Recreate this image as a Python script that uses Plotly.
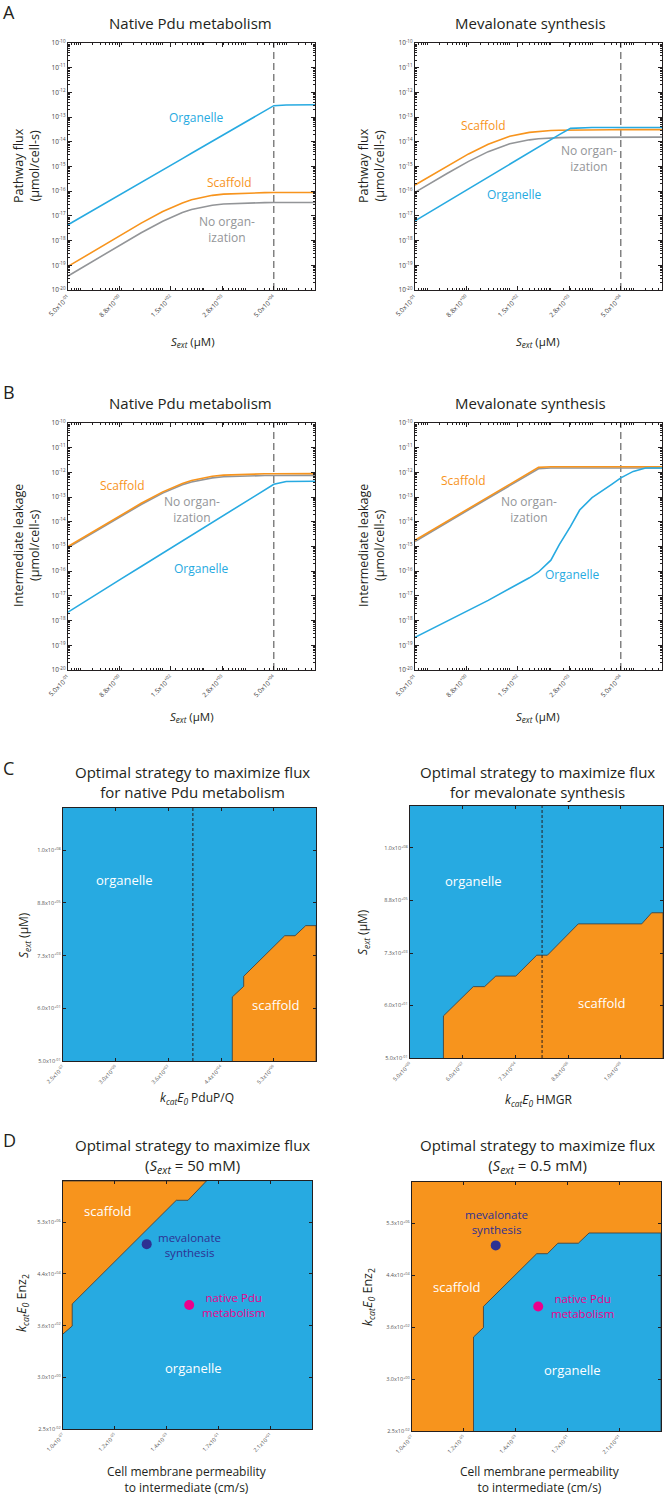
import plotly.graph_objects as go

# ---------------- DATA ----------------
# Panels A/B: external substrate (uM)
S_grid = [0.5, 1, 3, 10, 30, 100, 300, 500, 1000, 1600, 3000, 1e4, 3e4, 5e4, 1e5, 2e5, 5e5]
S_org_mev_leak = [0.5, 1, 3, 10, 30, 100, 300, 500, 1000, 1600, 3000, 5000, 1e4, 3e4, 5e4, 1e5, 2e5, 5e5]
S_marker = 5e4

# A: pathway flux, native Pdu metabolism
flux_pdu_organelle = [4.4e-18, 8.5e-18, 2.45e-17, 7.9e-17, 2.28e-16, 7.2e-16, 2.09e-15, 3.45e-15, 6.7e-15,
                      1.05e-14, 1.94e-14, 6.2e-14, 1.78e-13, 2.9e-13, 3.1e-13, 3.15e-13, 3.15e-13]
flux_pdu_scaffold = [9.0e-20, 1.8e-19, 5.37e-19, 1.77e-18, 5.1e-18, 1.5e-17, 3.36e-17, 4.48e-17, 5.96e-17,
                     6.8e-17, 7.64e-17, 8.48e-17, 8.76e-17, 8.81e-17, 8.86e-17, 8.88e-17, 8.89e-17]
flux_pdu_noorg = [3.7e-20, 7.4e-20, 2.2e-19, 7.25e-19, 2.09e-18, 6.1e-18, 1.36e-17, 1.8e-17, 2.38e-17,
                  2.7e-17, 3.02e-17, 3.34e-17, 3.45e-17, 3.47e-17, 3.48e-17, 3.49e-17, 3.5e-17]
# A: pathway flux, mevalonate synthesis
flux_mev_organelle = [6.3e-18, 1.26e-17, 3.7e-17, 1.24e-16, 3.7e-16, 1.23e-15, 3.65e-15, 6.1e-15, 1.2e-14,
                      1.95e-14, 3.5e-14, 3.8e-14, 3.8e-14, 3.8e-14, 3.8e-14, 3.8e-14, 3.8e-14]
flux_mev_scaffold = [1.79e-16, 3.56e-16, 1.045e-15, 3.23e-15, 8.0e-15, 1.67e-14, 2.41e-14, 2.65e-14, 2.85e-14,
                     2.94e-14, 3.01e-14, 3.07e-14, 3.09e-14, 3.1e-14, 3.1e-14, 3.1e-14, 3.1e-14]
flux_mev_noorg = [8.95e-17, 1.78e-16, 5.2e-16, 1.61e-15, 4.0e-15, 8.3e-15, 1.2e-14, 1.32e-14, 1.43e-14,
                  1.47e-14, 1.51e-14, 1.54e-14, 1.55e-14, 1.55e-14, 1.55e-14, 1.55e-14, 1.55e-14]
# B: intermediate leakage, native Pdu metabolism
leak_pdu_organelle = [2.2e-18, 4.6e-18, 1.42e-17, 5.0e-17, 1.55e-16, 5.4e-16, 1.66e-15, 2.8e-15, 5.7e-15,
                      9.4e-15, 1.82e-14, 6.3e-14, 1.95e-13, 3.3e-13, 4.3e-13, 4.4e-13, 4.4e-13]
leak_pdu_scaffold = [1.0e-15, 2.0e-15, 5.96e-15, 1.96e-14, 5.6e-14, 1.63e-13, 3.58e-13, 4.71e-13, 6.16e-13,
                     6.96e-13, 7.75e-13, 8.52e-13, 8.77e-13, 8.82e-13, 8.86e-13, 8.88e-13, 8.89e-13]
leak_pdu_noorg = [9.0e-16, 1.8e-15, 5.36e-15, 1.76e-14, 5.0e-14, 1.45e-13, 3.14e-13, 4.12e-13, 5.34e-13,
                  6.01e-13, 6.66e-13, 7.29e-13, 7.49e-13, 7.53e-13, 7.57e-13, 7.58e-13, 7.6e-13]
# B: intermediate leakage, mevalonate synthesis
leak_mev_organelle = [2.1e-19, 3.8e-19, 9.3e-19, 2.6e-18, 6.6e-18, 2.0e-17, 5.4e-17, 9.3e-17, 2.8e-16,
                      1.2e-15, 6.5e-15, 3.0e-14, 9.5e-14, 3.3e-13, 6.0e-13, 1.1e-12, 1.5e-12, 1.5e-12]
leak_mev_scaffold = [1.8e-15, 3.56e-15, 1.05e-14, 3.4e-14, 1.0e-13, 3.25e-13, 9.5e-13, 1.6e-12, 1.7e-12,
                     1.7e-12, 1.7e-12, 1.7e-12, 1.7e-12, 1.7e-12, 1.7e-12, 1.7e-12, 1.7e-12]
leak_mev_noorg = [1.6e-15, 3.2e-15, 9.4e-15, 3.05e-14, 9.0e-14, 2.9e-13, 8.5e-13, 1.4e-12, 1.5e-12,
                  1.5e-12, 1.5e-12, 1.5e-12, 1.5e-12, 1.5e-12, 1.5e-12, 1.5e-12, 1.5e-12]

# Tick labels
AB_xtick_vals = [0.5, 8.89, 158.1, 2812, 5e4]
AB_xtick_text = ["5.0x10<sup>-01</sup>", "8.8x10<sup>+00</sup>", "1.5x10<sup>+02</sup>",
                 "2.8x10<sup>+03</sup>", "5.0x10<sup>+04</sup>"]
AB_ytick_vals = [1e-20, 1e-19, 1e-18, 1e-17, 1e-16, 1e-15, 1e-14, 1e-13, 1e-12, 1e-11, 1e-10]
AB_ytick_text = ["10<sup>-20</sup>", "10<sup>-19</sup>", "10<sup>-18</sup>", "10<sup>-17</sup>", "10<sup>-16</sup>",
                 "10<sup>-15</sup>", "10<sup>-14</sup>", "10<sup>-13</sup>", "10<sup>-12</sup>", "10<sup>-11</sup>",
                 "10<sup>-10</sup>"]

kcat_pdu_vals = [0.025, 3.03, 367, 4.45e4, 5.39e6]
kcat_pdu_text = ["2.5x10<sup>-02</sup>", "3.0x10<sup>+00</sup>", "3.6x10<sup>+02</sup>",
                 "4.4x10<sup>+04</sup>", "5.3x10<sup>+06</sup>"]
kcat_mev_vals = [5, 606, 7.34e4, 8.89e6, 1.08e9]
kcat_mev_text = ["5.0x10<sup>+00</sup>", "6.0x10<sup>+02</sup>", "7.3x10<sup>+04</sup>",
                 "8.8x10<sup>+06</sup>", "1.0x10<sup>+09</sup>"]
Sext_vals = [0.5, 60.6, 7.34e3, 8.89e5, 1.08e8]
Sext_text = ["5.0x10<sup>-01</sup>", "6.0x10<sup>+01</sup>", "7.3x10<sup>+03</sup>",
             "8.8x10<sup>+05</sup>", "1.0x10<sup>+08</sup>"]
perm_vals = [1e-7, 1.21e-5, 1.47e-3, 0.178, 21.5]
perm_text = ["1.0x10<sup>-07</sup>", "1.2x10<sup>-05</sup>", "1.4x10<sup>-03</sup>",
             "1.7x10<sup>-01</sup>", "2.1x10<sup>+01</sup>"]

# C: scaffold region boundaries
C_pdu_kcat = [1.23e5, 1.23e5, 3.47e5, 3.47e5, 1.45e7, 3.7e7, 9.8e7, 2.5e8, 2.5e8]
C_pdu_S = [0.5, 170, 447, 1120, 4.47e4, 4.47e4, 1.12e5, 1.12e5, 0.5]
C_pdu_kcat_native = 3.4e3
C_mev_kcat = [105, 105, 1.58e3, 4.4e3, 1.23e4, 7.6e4, 5.1e5, 1.35e6, 2.24e7, 7.2e9, 1.78e10, 5e10, 5e10]
C_mev_S = [0.5, 23.4, 339, 339, 891, 891, 6.0e3, 6.0e3, 1.05e5, 1.05e5, 2.9e5, 2.9e5, 0.5]
C_mev_kcat_native = 8.3e5

# D: region boundaries (permeability cm/s, kcatE0 Enz2)
D50_scaffold_perm = [1e-7, 0.0575, 0.0105, 3.55e-3, 2.34e-7, 2.34e-7, 1e-7]
D50_scaffold_kcat = [2.5e8, 2.5e8, 4.17e7, 4.17e7, 2750, 355, 170]
D05_organelle_perm = [2.95e-5, 2.95e-5, 7.4e-5, 7.4e-5, 0.0102, 0.0275, 0.0724, 0.479, 1.29, 1000, 1000]
D05_organelle_kcat = [0.025, 148, 355, 2510, 3.3e5, 3.3e5, 8.7e5, 8.7e5, 2.24e6, 2.24e6, 0.025]
pathway_names = ["mevalonate<br>synthesis", "native Pdu<br>metabolism"]
pathway_perm = [2.3e-4, 0.0117]
pathway_kcat = [7.1e5, 2.5e3]

# ---------------- STYLE ----------------
W, H = 666, 1495
BLUE = "#27aae1"
ORANGE = "#f7941d"
GRAY = "#939598"
DKBLUE = "#2e3192"
MAGENTA = "#ec008c"
AXC = "#231f20"
FONT = "Open Sans"

fig = go.Figure()

boxes = {
    1: (68, 315, 43, 290), 2: (415, 662, 43, 290),
    3: (68, 315, 423, 670), 4: (415, 662, 423, 670),
    5: (63, 316, 808, 1061), 6: (410, 663, 806, 1058),
    7: (63, 312, 1181, 1429), 8: (412, 661, 1182, 1431),
}

minor_x = [m * 10 ** k for k in range(-1, 6) for m in range(1, 10) if 0.5 <= m * 10 ** k <= 5e5]
minor_y = [m * 10.0 ** k for k in range(-20, -10) for m in range(2, 10)]


def axis_common(i, which, rng, tv, tt, minor=None):
    l, r, t, b = boxes[i]
    d = dict(type="log", range=rng, tickmode="array", tickvals=tv, ticktext=tt,
             ticks="inside", ticklen=4, tickwidth=1, tickcolor=AXC, automargin=False,
             showline=True, linecolor=AXC, linewidth=1.3, mirror="allticks",
             showgrid=False, zeroline=False,
             tickfont=dict(size=6.5, color="#444", family=FONT))
    if which == "x":
        d["domain"] = [l / W, r / W]
        d["anchor"] = "y" if i == 1 else "y%d" % i
        d["tickangle"] = -45
    else:
        d["domain"] = [1 - b / H, 1 - t / H]
        d["anchor"] = "x" if i == 1 else "x%d" % i
    if minor is not None:
        d["minor"] = dict(tickmode="array", tickvals=minor, ticks="inside", ticklen=2,
                          tickcolor=AXC, showgrid=False)
    return d


layout_axes = {}
for i in range(1, 5):
    xn = "xaxis" if i == 1 else "xaxis%d" % i
    yn = "yaxis" if i == 1 else "yaxis%d" % i
    layout_axes[xn] = axis_common(i, "x", [-0.30103, 5.69897], AB_xtick_vals, AB_xtick_text, minor_x)
    layout_axes[yn] = axis_common(i, "y", [-20, -10], AB_ytick_vals, AB_ytick_text, minor_y)

layout_axes["xaxis5"] = axis_common(5, "x", [-1.60206, 8.39794], kcat_pdu_vals, kcat_pdu_text)
layout_axes["yaxis5"] = axis_common(5, "y", [-0.30103, 9.69897], Sext_vals, Sext_text)
layout_axes["xaxis6"] = axis_common(6, "x", [0.69897, 10.69897], kcat_mev_vals, kcat_mev_text)
layout_axes["yaxis6"] = axis_common(6, "y", [-0.30103, 9.69897], Sext_vals, Sext_text)
layout_axes["xaxis7"] = axis_common(7, "x", [-7, 3], perm_vals, perm_text)
layout_axes["yaxis7"] = axis_common(7, "y", [-1.60206, 8.39794], kcat_pdu_vals, kcat_pdu_text)
layout_axes["xaxis8"] = axis_common(8, "x", [-7, 3], perm_vals, perm_text)
layout_axes["yaxis8"] = axis_common(8, "y", [-1.60206, 8.39794], kcat_pdu_vals, kcat_pdu_text)
for i in range(5, 9):
    for a in ("xaxis%d" % i, "yaxis%d" % i):
        layout_axes[a]["mirror"] = "ticks"
        layout_axes[a]["ticklen"] = 3
        layout_axes[a]["tickfont"] = dict(size=5.5, color="#555", family=FONT)


def ax(i):
    return ("x", "y") if i == 1 else ("x%d" % i, "y%d" % i)


# ---------------- LINE PANELS ----------------
line_sets = {
    1: [(S_grid, flux_pdu_noorg, GRAY), (S_grid, flux_pdu_scaffold, ORANGE), (S_grid, flux_pdu_organelle, BLUE)],
    2: [(S_grid, flux_mev_noorg, GRAY), (S_grid, flux_mev_scaffold, ORANGE), (S_grid, flux_mev_organelle, BLUE)],
    3: [(S_grid, leak_pdu_noorg, GRAY), (S_grid, leak_pdu_scaffold, ORANGE), (S_grid, leak_pdu_organelle, BLUE)],
    4: [(S_grid, leak_mev_noorg, GRAY), (S_grid, leak_mev_scaffold, ORANGE), (S_org_mev_leak, leak_mev_organelle, BLUE)],
}
for i, sets in line_sets.items():
    xa, ya = ax(i)
    fig.add_trace(go.Scatter(x=[S_marker, S_marker], y=[1e-20, 1e-10], mode="lines", xaxis=xa, yaxis=ya,
                             line=dict(color="#444", width=1, dash="7px,4px"), hoverinfo="skip"))
    for xs, ys, c in sets:
        fig.add_trace(go.Scatter(x=xs, y=ys, mode="lines", xaxis=xa, yaxis=ya,
                                 line=dict(color=c, width=1.6)))

# ---------------- REGION PANELS ----------------
shapes = []
for i, bg in [(5, BLUE), (6, BLUE), (7, BLUE), (8, ORANGE)]:
    xa, ya = ax(i)
    shapes.append(dict(type="rect", xref=xa + " domain", yref=ya + " domain", x0=0, x1=1, y0=0, y1=1,
                       fillcolor=bg, line=dict(width=0), layer="below"))

region_sets = [
    (5, C_pdu_kcat, C_pdu_S, ORANGE),
    (6, C_mev_kcat, C_mev_S, ORANGE),
    (7, D50_scaffold_perm, D50_scaffold_kcat, ORANGE),
    (8, D05_organelle_perm, D05_organelle_kcat, BLUE),
]
for i, xs, ys, c in region_sets:
    xa, ya = ax(i)
    fig.add_trace(go.Scatter(x=xs, y=ys, mode="lines", fill="toself", fillcolor=c, xaxis=xa, yaxis=ya,
                             line=dict(color="#3a3a3a", width=0.8)))

for i, xv in [(5, C_pdu_kcat_native), (6, C_mev_kcat_native)]:
    xa, ya = ax(i)
    fig.add_trace(go.Scatter(x=[xv, xv], y=[0.5, 5e9], mode="lines", xaxis=xa, yaxis=ya,
                             line=dict(color=AXC, width=1, dash="3px,2px")))

for i in (7, 8):
    xa, ya = ax(i)
    fig.add_trace(go.Scatter(x=pathway_perm, y=pathway_kcat, mode="markers", xaxis=xa, yaxis=ya,
                             marker=dict(size=10, color=[DKBLUE, MAGENTA], line=dict(width=0))))

# ---------------- ANNOTATIONS ----------------
ann = []


def paper_text(text, px, py, size, angle=0, color="#231f20"):
    ann.append(dict(text=text, x=px / W, y=1 - py / H, xref="paper", yref="paper", showarrow=False,
                    xanchor="center", yanchor="middle", textangle=angle,
                    font=dict(size=size, color=color, family=FONT)))


def data_text(i, text, lx, ly, color, size):
    xa, ya = ax(i)
    ann.append(dict(text=text, x=lx, y=ly, xref=xa, yref=ya, showarrow=False, xanchor="center",
                    yanchor="middle", font=dict(size=size, color=color, family=FONT)))


for letter, py in [("A", 12), ("B", 392), ("C", 768), ("D", 1140)]:
    ann.append(dict(text=letter, x=1 / W, y=1 - py / H, xref="paper", yref="paper", showarrow=False,
                    xanchor="left", yanchor="middle", font=dict(size=18, color="#231f20", family=FONT)))

TS = 15
paper_text("Native Pdu metabolism", 191, 23, TS)
paper_text("Mevalonate synthesis", 530, 23, TS)
paper_text("Native Pdu metabolism", 191, 403, TS)
paper_text("Mevalonate synthesis", 530, 403, TS)
paper_text("Optimal strategy to maximize flux<br>for native Pdu metabolism", 192, 782, TS)
paper_text("Optimal strategy to maximize flux<br>for mevalonate synthesis", 537, 782, TS)
paper_text("Optimal strategy to maximize flux<br>(<i>S</i><sub><i>ext</i></sub> = 50 mM)", 192, 1156, TS)
paper_text("Optimal strategy to maximize flux<br>(<i>S</i><sub><i>ext</i></sub> = 0.5 mM)", 537, 1156, TS)

sext = "<i>S</i><sub><i>ext</i></sub> (µM)"
kcE = "<i>k</i><sub><i>cat</i></sub><i>E</i><sub><i>0</i></sub>"
for px, py in [(193, 342), (538, 342), (192, 717), (538, 717)]:
    paper_text(sext, px, py, 11.5)
paper_text(kcE + " PduP/Q", 197, 1098, 12)
paper_text(kcE + " HMGR", 538, 1100, 12)
paper_text("Cell membrane permeability<br>to intermediate (cm/s)", 187, 1479, 12)
paper_text("Cell membrane permeability<br>to intermediate (cm/s)", 540, 1479, 12)

paper_text("Pathway flux<br>(µmol/cell-s)", 26, 166, 12.5, -90)
paper_text("Pathway flux<br>(µmol/cell-s)", 371, 166, 12.5, -90)
paper_text("Intermediate leakage<br>(µmol/cell-s)", 26, 546, 12.5, -90)
paper_text("Intermediate leakage<br>(µmol/cell-s)", 371, 546, 12.5, -90)
paper_text(sext, 24, 935, 12, -90)
paper_text(sext, 363, 932, 12, -90)
paper_text(kcE + " Enz<sub>2</sub>", 22, 1303, 12.5, -90)
paper_text(kcE + " Enz<sub>2</sub>", 368, 1297, 12.5, -90)

noorg = "No organ-<br>ization"
data_text(1, "Organelle", 2.83, -13.0, BLUE, 12)
data_text(1, "Scaffold", 3.63, -15.64, ORANGE, 12)
data_text(1, noorg, 3.56, -17.57, GRAY, 12)
data_text(2, "Scaffold", 1.37, -13.35, ORANGE, 12)
data_text(2, noorg, 3.92, -14.66, GRAY, 12)
data_text(2, "Organelle", 2.12, -16.12, BLUE, 12)
data_text(3, "Scaffold", 1.03, -12.51, ORANGE, 12)
data_text(3, noorg, 2.71, -13.49, GRAY, 12)
data_text(3, "Organelle", 2.95, -15.88, BLUE, 12)
data_text(4, "Scaffold", 0.87, -12.33, ORANGE, 12)
data_text(4, noorg, 2.48, -13.5, GRAY, 12)
data_text(4, "Organelle", 3.53, -16.12, BLUE, 12)

data_text(5, "organelle", 0.84, 6.84, "white", 13)
data_text(5, "scaffold", 6.80, 1.90, "white", 13)
data_text(6, "organelle", 3.20, 6.71, "white", 13)
data_text(6, "scaffold", 8.25, 1.87, "white", 13)
data_text(7, "scaffold", -5.22, 7.18, "white", 13)
data_text(7, "organelle", -1.75, 0.85, "white", 13)
data_text(7, pathway_names[0], -1.91, 5.81, DKBLUE, 11.5)
data_text(7, pathway_names[1], -0.17, 3.4, MAGENTA, 11.5)
data_text(8, "scaffold", -5.2, 4.2, "white", 13)
data_text(8, "organelle", -0.54, 0.85, "white", 13)
data_text(8, pathway_names[0], -3.59, 6.79, DKBLUE, 11.5)
data_text(8, pathway_names[1], -0.14, 3.4, MAGENTA, 11.5)

fig.update_layout(width=W, height=H, margin=dict(l=0, r=0, t=0, b=0, autoexpand=False), autosize=False,
                  paper_bgcolor="white", plot_bgcolor="rgba(0,0,0,0)", showlegend=False,
                  font=dict(family=FONT, color="#231f20"), annotations=ann, shapes=shapes,
                  **layout_axes)

fig.write_html("out.html", config={"displayModeBar": False},
               post_script="document.body.style.margin='0px';document.body.style.overflow='hidden';")
